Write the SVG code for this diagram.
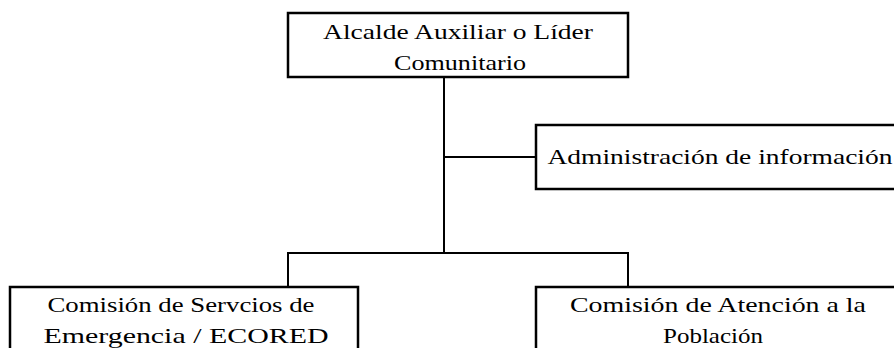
<svg xmlns="http://www.w3.org/2000/svg" width="894" height="348" viewBox="0 0 894 348">
<style>
.box{fill:#fff;stroke:#000;stroke-width:2.5}
.ln{fill:none;stroke:#000;stroke-width:2}
text{font-family:"Liberation Serif","Times New Roman",serif;font-size:22px;fill:#000;text-anchor:middle}
</style>
<rect width="894" height="348" fill="#fff"/>
<g id="connectors">
<path class="ln" d="M444 77V253"/>
<path class="ln" d="M444 157H536"/>
<path class="ln" d="M288 287V253H628V287"/>
</g>
<g id="n-alcalde">
<rect class="box" x="288" y="13" width="340" height="64"/>
<text x="458" y="39" textLength="270" lengthAdjust="spacingAndGlyphs">Alcalde Auxiliar o Líder</text>
<text x="460" y="70" textLength="132" lengthAdjust="spacingAndGlyphs">Comunitario</text>
</g>
<g id="n-admin">
<rect class="box" x="536" y="125" width="370" height="64"/>
<text x="720" y="164" textLength="345" lengthAdjust="spacingAndGlyphs">Administración de información</text>
</g>
<g id="n-servicios">
<rect class="box" x="10" y="287" width="348" height="80"/>
<text x="181" y="312" textLength="267" lengthAdjust="spacingAndGlyphs">Comisión de Servcios de</text>
<text x="186" y="343" textLength="285" lengthAdjust="spacingAndGlyphs">Emergencia / ECORED</text>
</g>
<g id="n-poblacion">
<rect class="box" x="536" y="287" width="370" height="80"/>
<text x="718" y="312" textLength="296" lengthAdjust="spacingAndGlyphs">Comisión de Atención a la</text>
<text x="713" y="343" textLength="100" lengthAdjust="spacingAndGlyphs">Población</text>
</g>
</svg>
